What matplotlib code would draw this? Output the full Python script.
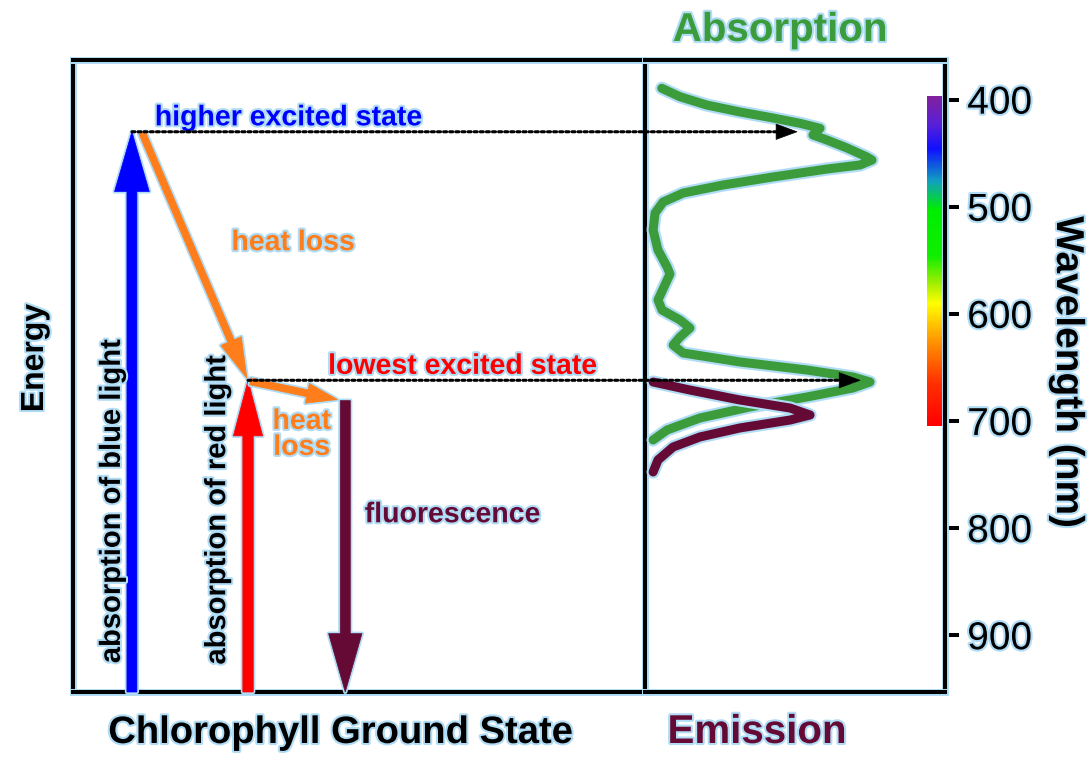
import numpy as np
import matplotlib
matplotlib.use("Agg")
from matplotlib import pyplot as plt
from matplotlib.colors import LinearSegmentedColormap
from matplotlib.patches import ConnectionPatch
import matplotlib.patheffects as pe

plt.rcParams['font.family'] = ['Liberation Sans', 'DejaVu Sans']

# energy levels, given as the wavelength they line up with (nm)
higher_level = 430
lowest_level = 662
fluor_start = 681
ground_level = 953

# absorption spectrum of chlorophyll (wavelength nm, relative intensity)
absorb_nm = [389.4, 397.3, 405.0, 411.5, 417.1, 422.1, 426.8, 433.0, 437.7, 445.1, 453.5,
             456.4, 461.0, 464.8, 472.2, 479.7, 487.2, 495.6, 505.8, 521.7, 540.4, 556.2,
             562.8, 587.0, 596.4, 605.7, 613.2, 621.6, 629.1, 636.5, 644.9, 652.4, 658.9,
             663.6, 669.2, 677.6, 686.9, 697.2, 708.4, 717.7]
absorb_int = [0.053, 0.135, 0.255, 0.405, 0.554, 0.676, 0.766, 0.734, 0.797, 0.887, 0.977,
              1.0, 0.946, 0.797, 0.554, 0.329, 0.149, 0.059, 0.023, 0.014, 0.036, 0.077,
              0.09, 0.036, 0.054, 0.135, 0.18, 0.135, 0.104, 0.149, 0.405, 0.707, 0.914,
              0.991, 0.914, 0.707, 0.45, 0.225, 0.077, 0.014]

# fluorescence emission spectrum
emit_nm = [663.6, 671.1, 680.4, 687.9, 694.4, 699.1, 706.5, 714.9, 724.3, 736.4, 747.6]
emit_int = [0.014, 0.18, 0.405, 0.631, 0.721, 0.631, 0.405, 0.225, 0.104, 0.036, 0.014]

wl_ticks = [400, 500, 600, 700, 800, 900]

# visible spectrum colours for the wavelength strip
spec_nm = [400, 425, 448, 478, 505, 548, 573, 592, 629, 666, 705]
spec_col = ['#8020a0', '#5a20d8', '#1010ff', '#10a0c0', '#00ee00', '#10ee00',
            '#a0ee00', '#ffff00', '#ff9000', '#ff3000', '#ff0000']

blue = '#0000ff'
red = '#ff0000'
orange = '#ff7d1a'
maroon = '#650a35'
green = '#3c9c3c'
halo_col = '#b0dcf5'


def halo(w):
    return [pe.withStroke(linewidth=w, foreground=halo_col)]


fig = plt.figure(figsize=(10.91, 7.57), dpi=100)
W, H = 1091.0, 757.0
bot = (H - 692) / H
hgt = (692 - 60) / H
ax = fig.add_axes([73 / W, bot, (645 - 73) / W, hgt])
ax2 = fig.add_axes([645 / W, bot, 300 / W, hgt])
ax2.patch.set_visible(False)

for a in (ax, ax2):
    for s in a.spines.values():
        s.set_linewidth(2.9)
        s.set_path_effects(halo(5))
ax2.spines['left'].set_visible(False)
ax.spines['right'].set_zorder(5)

ax.set_xlim(0, 1)
ax.set_ylim(ground_level, 363)
ax.set_xticks([])
ax.set_yticks([])


# transitions in the level diagram
def arrow(a, tail, tip, col, tw, hl, hw):
    a.annotate('', xy=tip, xytext=tail,
               arrowprops=dict(arrowstyle='simple,head_length=%g,head_width=%g,tail_width=%g'
                               % (hl, hw, tw),
                               fc=col, ec=col, lw=0.5, shrinkA=0, shrinkB=0,
                               mutation_scale=10, path_effects=halo(3)))


x_blue, x_red, x_fl = 0.103, 0.306, 0.476
arrow(ax, (x_blue, ground_level), (x_blue, higher_level), blue, 0.72, 4.3, 2.5)
arrow(ax, (x_red, ground_level), (x_red, lowest_level), red, 0.75, 4.0, 2.1)
arrow(ax, (x_fl, fluor_start), (x_fl, ground_level), maroon, 0.72, 4.2, 2.4)
arrow(ax, (0.121, higher_level + 1), (0.304, lowest_level - 2), orange, 0.5, 2.9, 1.6)
arrow(ax, (0.31, lowest_level + 1), (0.462, fluor_start - 1), orange, 0.5, 2.2, 1.45)

# dotted guides from the levels to the spectrum
for x0, lvl, tip in [(x_blue, higher_level, 0.662), (x_red, lowest_level, 0.946)]:
    con = ConnectionPatch(xyA=(x0, lvl), coordsA=ax.transData,
                          xyB=(tip - 0.03, lvl), coordsB=ax2.transData,
                          color='k', lw=2.2, linestyle=(0, (1, 1)))
    fig.add_artist(con)
    ax2.annotate('', xy=(tip, lvl), xytext=(tip - 0.07, lvl),
                 arrowprops=dict(arrowstyle='simple,head_length=1.5,head_width=1.1,tail_width=0.01',
                                 fc='k', ec='k', lw=0.5, shrinkA=0, shrinkB=0,
                                 mutation_scale=10))

fs = 20.5
ax.text(0.143, higher_level - 6, 'higher excited state', color=blue, fontsize=fs,
        fontweight='bold', va='baseline', path_effects=halo(3))
ax.text(0.385, 534, 'heat loss', color=orange, fontsize=fs, fontweight='bold',
        ha='center', va='center', path_effects=halo(3))
ax.text(0.446, lowest_level - 6, 'lowest excited state', color=red, fontsize=fs,
        fontweight='bold', va='baseline', path_effects=halo(3))
ax.text(0.40, 713, 'heat\nloss', color=orange, fontsize=fs, fontweight='bold',
        ha='center', va='center', linespacing=1.0, path_effects=halo(3))
ax.text(0.51, 788, 'fluorescence', color=maroon, fontsize=fs, fontweight='bold',
        va='center', path_effects=halo(3))
ax.text(0.068, 775, 'absorption of blue light', color='k', fontsize=21,
        fontweight='bold', rotation=90, ha='center', va='center', path_effects=halo(3))
ax.text(0.252, 783, 'absorption of red light', color='k', fontsize=21,
        fontweight='bold', rotation=90, ha='center', va='center', path_effects=halo(3))

# spectra panel
ax2.plot(absorb_int, absorb_nm, color=green, lw=6.5, solid_capstyle='round',
         solid_joinstyle='round', path_effects=halo(9.5))
ax2.plot(emit_int, emit_nm, color=maroon, lw=6.5, solid_capstyle='round',
         solid_joinstyle='round', path_effects=halo(9.5))

cmap = LinearSegmentedColormap.from_list(
    'visible', [((n - spec_nm[0]) / (spec_nm[-1] - spec_nm[0]), c)
                for n, c in zip(spec_nm, spec_col)])
strip = np.linspace(spec_nm[0], spec_nm[-1], 300).reshape(-1, 1)
ax2.imshow(strip, cmap=cmap, aspect='auto', origin='upper',
           extent=[1.248, 1.32, spec_nm[-1], 397])

ax2.set_xlim(-0.0225, 1.3288)
ax2.set_ylim(ground_level, 363)
ax2.set_xticks([])
ax2.yaxis.tick_right()
ax2.set_yticks(wl_ticks)
ax2.tick_params(axis='y', direction='out', length=10, width=2.9, labelsize=28, pad=6)
for lab in ax2.get_yticklabels():
    lab.set_path_effects(halo(3))

# titles round the box
fig.text(780 / W, 1 - 30 / H, 'Absorption', color=green, fontsize=29, fontweight='bold',
         ha='center', va='center', path_effects=halo(3))
fig.text(757 / W, 1 - 732 / H, 'Emission', color=maroon, fontsize=29, fontweight='bold',
         ha='center', va='center', path_effects=halo(3))
fig.text(341 / W, 1 - 733 / H, 'Chlorophyll Ground State', color='k', fontsize=27.5,
         fontweight='bold', ha='center', va='center', path_effects=halo(3))
fig.text(35 / W, 1 - 358 / H, 'Energy', color='k', fontsize=23, fontweight='bold',
         rotation=90, ha='center', va='center', path_effects=halo(3))
fig.text(1067 / W, 1 - 372 / H, 'Wavelength (nm)', color='k', fontsize=28,
         fontweight='bold', rotation=270, ha='center', va='center', path_effects=halo(3))

fig.savefig('out.png', dpi=100, facecolor='white')
